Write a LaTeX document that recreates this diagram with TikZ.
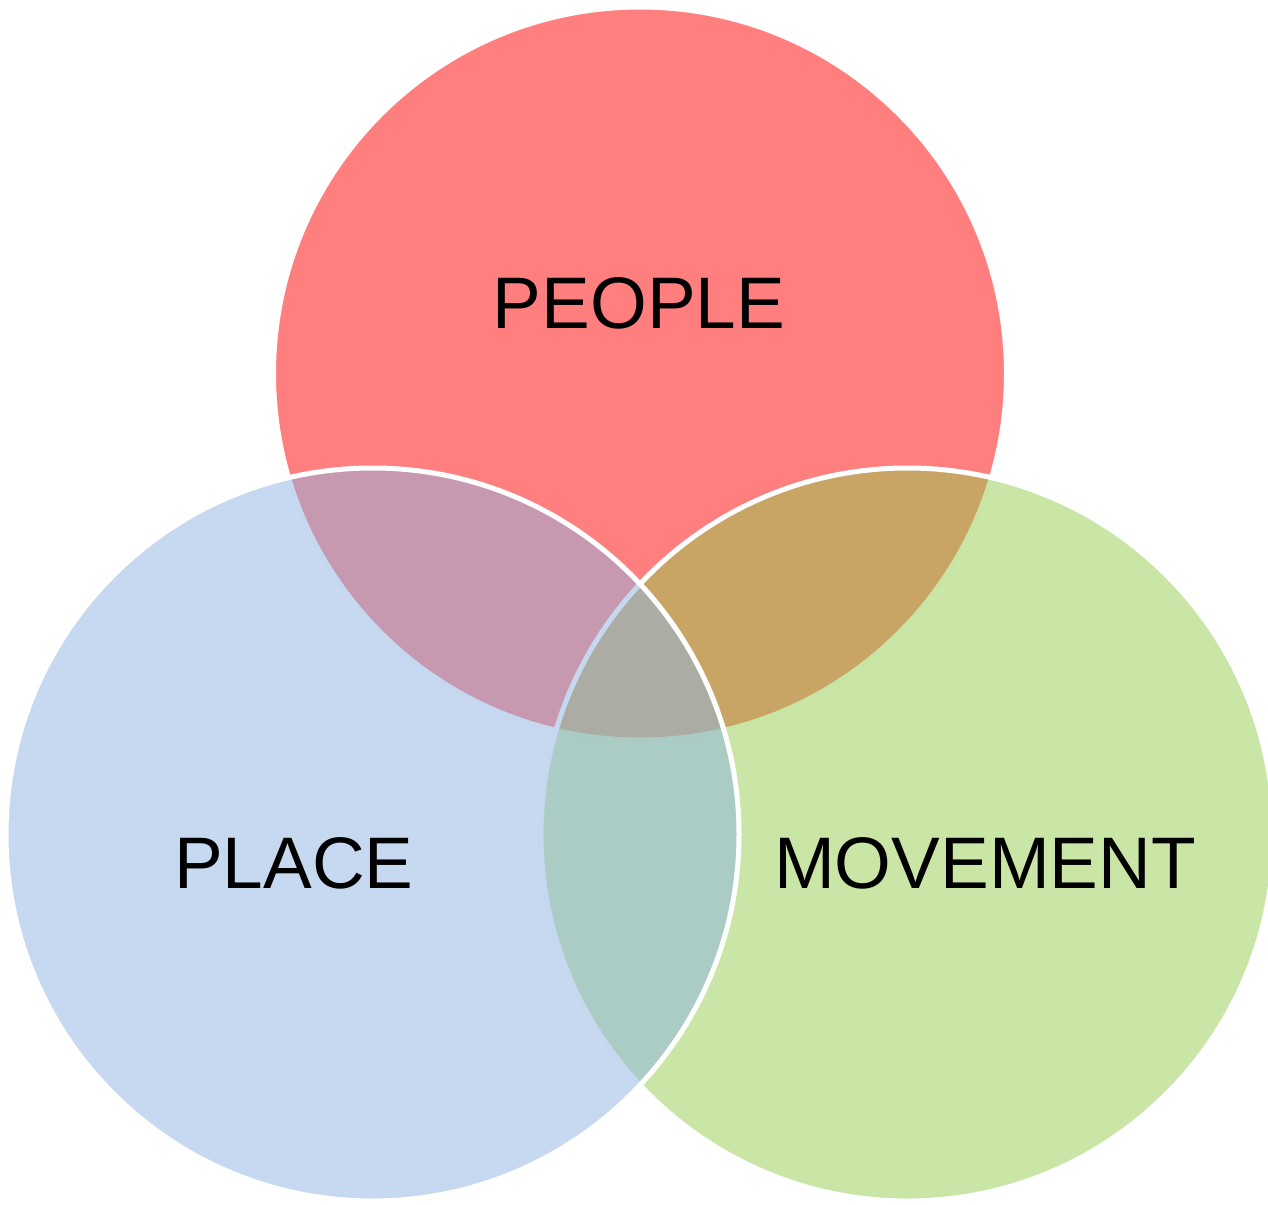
\documentclass[tikz,border=0pt]{standalone}
\usepackage{fontspec}
\setmainfont{Liberation Sans}
\definecolor{vred}{HTML}{FF0000}
\definecolor{vblue}{HTML}{8DB3E2}
\definecolor{vgreen}{HTML}{93CD4D}
\begin{document}
\begin{tikzpicture}[x=1pt,y=-1pt,
  venn/.style={fill opacity=0.5, draw=white, line width=5pt},
  lbl/.style={anchor=base, inner sep=0pt, font=\fontsize{73}{80}\selectfont, text=black}]
\useasboundingbox (0,0) rectangle (1268,1204);
\coordinate (cpeople) at (640,373.5);
\coordinate (cmove) at (907.5,834.5);
\coordinate (cplace) at (372.5,834.5);
\path[venn, fill=vred] (cpeople) circle[radius=366.5pt];
\path[venn, fill=vgreen] (cmove) circle[radius=366.5pt];
\path[venn, fill=vblue] (cplace) circle[radius=366.5pt];
\node[lbl] (people) at (639,328) {PEOPLE};
\node[lbl] (place) at (294,888) {PLACE};
\node[lbl] (movement) at (985,888) {MOVEMENT};
\end{tikzpicture}
\end{document}
